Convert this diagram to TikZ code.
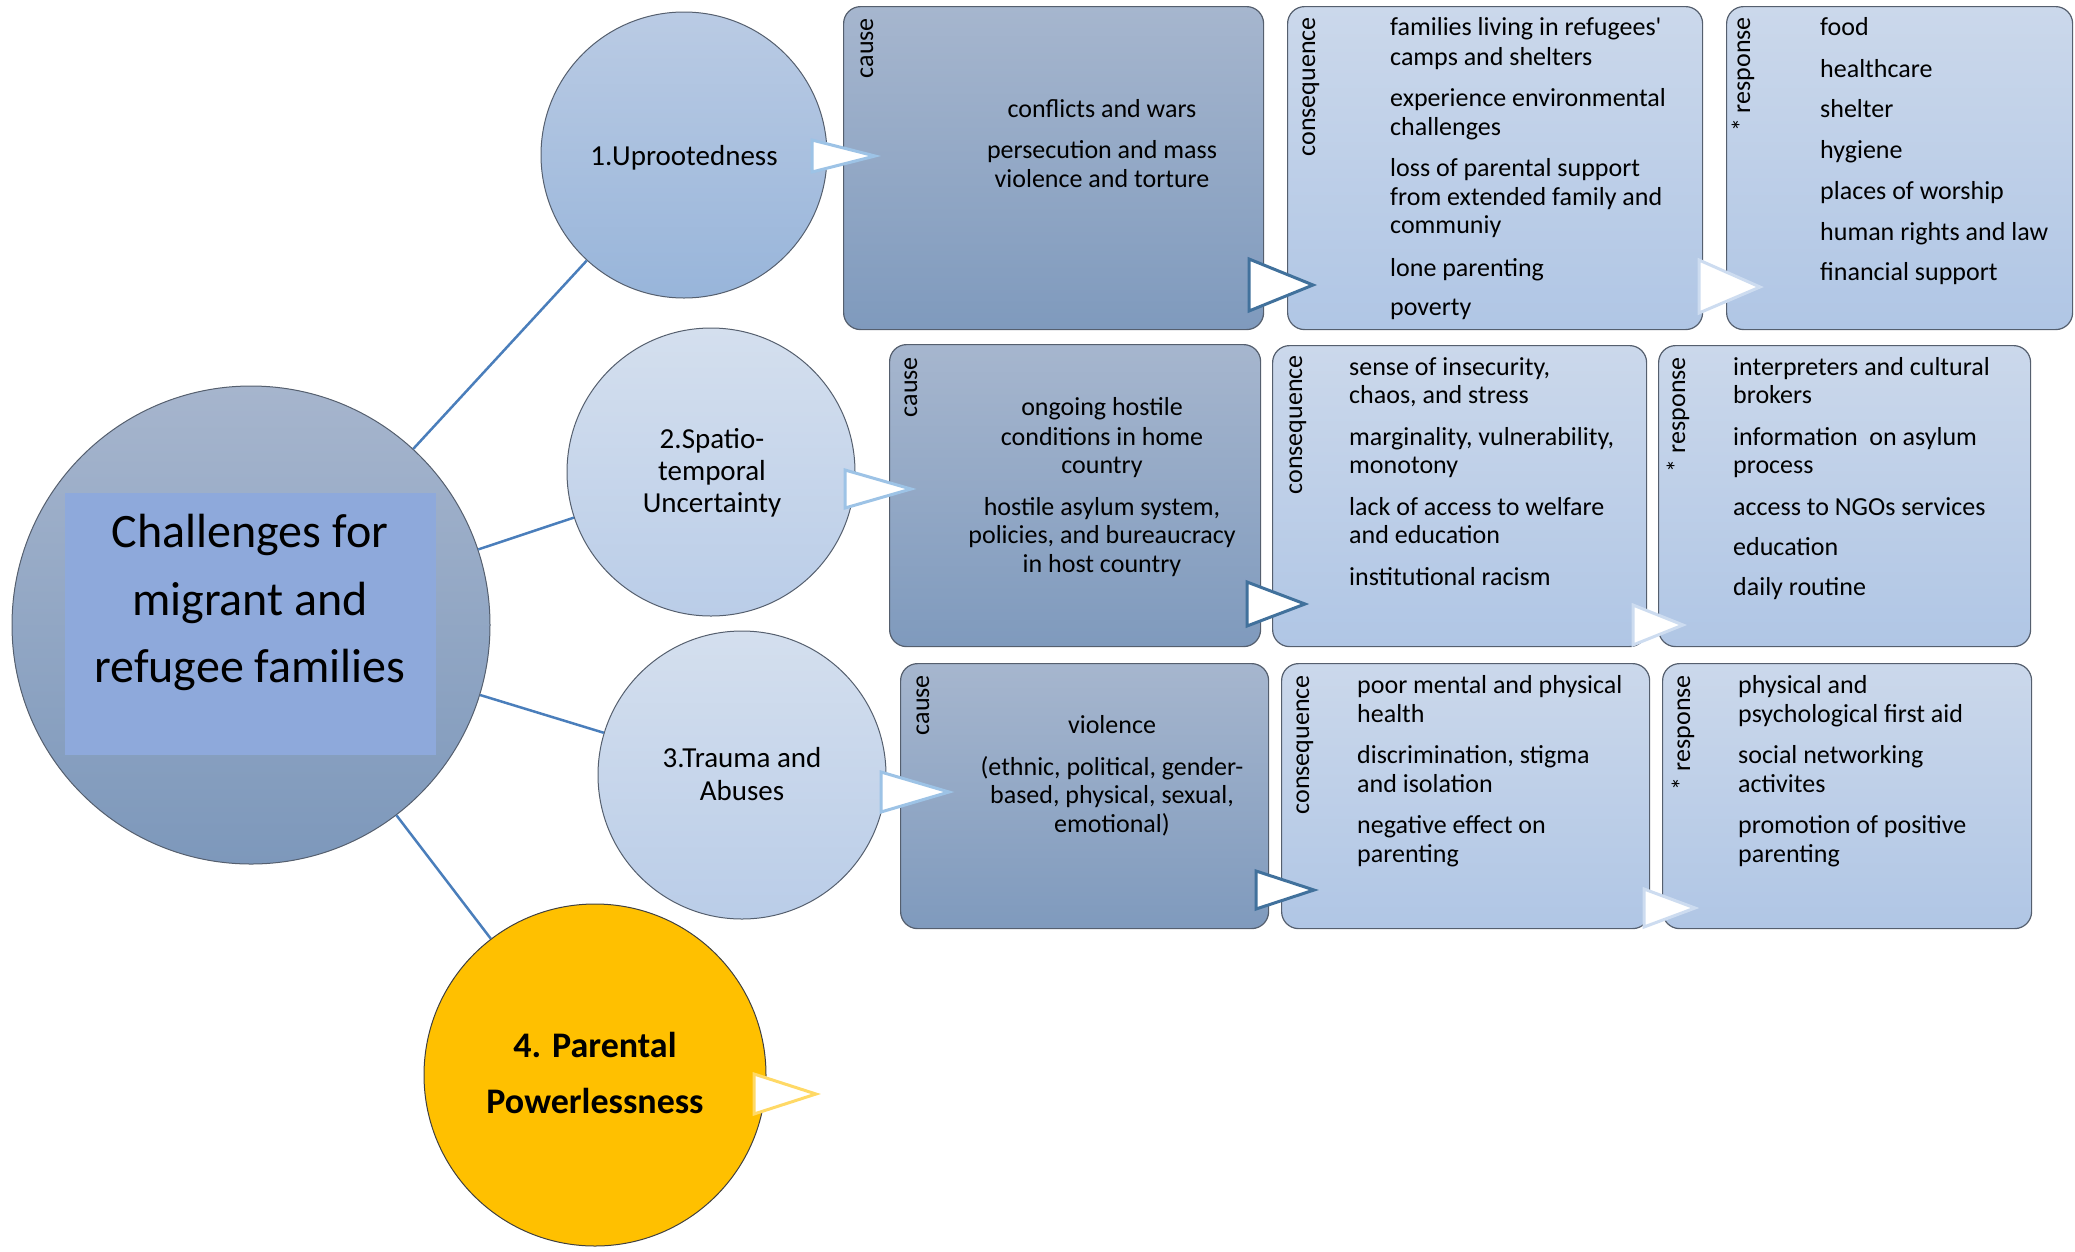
\documentclass[tikz,border=0pt]{standalone}
\usepackage{fontspec}
\setmainfont{Carlito}[Ligatures=TeXOff]
\definecolor{linec}{RGB}{74,126,187}
\definecolor{causetop}{RGB}{166,182,206}
\definecolor{causebot}{RGB}{127,154,189}
\definecolor{boxtop}{RGB}{203,216,235}
\definecolor{boxbot}{RGB}{176,198,229}
\definecolor{maintop}{RGB}{166,181,205}
\definecolor{mainbot}{RGB}{125,152,187}
\definecolor{innerc}{RGB}{142,169,219}
\definecolor{nAtop}{RGB}{186,203,228}
\definecolor{nAbot}{RGB}{152,181,218}
\definecolor{ntop}{RGB}{212,223,238}
\definecolor{nbot}{RGB}{186,205,232}
\definecolor{goldc}{RGB}{255,192,0}
\definecolor{goldline}{RGB}{255,217,102}
\definecolor{bordc}{RGB}{85,95,110}
\definecolor{triA}{RGB}{157,195,230}
\definecolor{triB}{RGB}{65,113,156}
\definecolor{triC}{RGB}{205,220,240}
\begin{document}
\begin{tikzpicture}[x=1pt,y=-1pt,
  conn/.style={draw=linec, line width=2.5pt},
  bubble/.style={circle, draw=bordc, line width=1pt, inner sep=0pt},
  causebox/.style={rectangle, rounded corners=17pt, draw=bordc, line width=1.2pt, top color=causetop, bottom color=causebot, anchor=north west, inner sep=0pt},
  cbox/.style={causebox, top color=boxtop, bottom color=boxbot},
  tri/.style={fill=white, line width=3pt, line join=miter},
  tl/.style={inner sep=0pt, font=\fontsize{26}{29}\selectfont, anchor=base west},
  tc/.style={inner sep=0pt, font=\fontsize{26}{29}\selectfont, anchor=base},
  side/.style={inner sep=0pt, font=\fontsize{26}{29}\selectfont, rotate=90, anchor=base east},
  bl/.style={inner sep=0pt, font=\fontsize{29}{32}\selectfont, anchor=base},
]
\useasboundingbox (0,0) rectangle (2075,1251);

% circles
\node[bubble, minimum size=478pt, top color=maintop, bottom color=mainbot] (main) at (251,625) {};
\node[fill=innerc, minimum width=371pt, minimum height=262pt, inner sep=0pt] (inner) at (250.5,624) {};
\node[bubble, minimum size=286pt, top color=nAtop, bottom color=nAbot] (n1) at (684,155) {};
\node[bubble, minimum size=288pt, top color=ntop, bottom color=nbot] (n2) at (711,472) {};
\node[bubble, minimum size=288pt, top color=ntop, bottom color=nbot] (n3) at (742,775) {};
\node[bubble, minimum size=342pt, fill=goldc, draw=black!75] (n4) at (595,1075) {};

% connectors
\draw[conn] (main) -- (n1);
\draw[conn] (main) -- (n2);
\draw[conn] (main) -- (n3);
\draw[conn] (main) -- (n4);

% boxes
\node[causebox, minimum width=420pt, minimum height=323pt] (cause1) at (843,6) {};
\node[cbox, minimum width=415pt, minimum height=323pt] (cons1) at (1287,6) {};
\node[cbox, minimum width=346pt, minimum height=323pt] (resp1) at (1726,6) {};
\node[causebox, minimum width=371pt, minimum height=302pt] (cause2) at (889,344) {};
\node[cbox, minimum width=374pt, minimum height=301pt] (cons2) at (1272,345) {};
\node[cbox, minimum width=372pt, minimum height=301pt] (resp2) at (1658,345) {};
\node[causebox, minimum width=368pt, minimum height=265pt] (cause3) at (900,663) {};
\node[cbox, minimum width=368pt, minimum height=265pt] (cons3) at (1281,663) {};
\node[cbox, minimum width=369pt, minimum height=265pt] (resp3) at (1662,663) {};

% triangles
\draw[tri, draw=triA] (812,140) -- (875,156) -- (812,172) -- cycle;
\draw[tri, draw=triB] (1249,259) -- (1313,285) -- (1249,311) -- cycle;
\draw[tri, draw=triC] (1699,260) -- (1760,287) -- (1699,313) -- cycle;
\draw[tri, draw=triA] (845,470) -- (911,489) -- (845,508) -- cycle;
\draw[tri, draw=triB] (1247,582) -- (1305,604) -- (1247,626) -- cycle;
\draw[tri, draw=triC] (1633,605) -- (1683,625) -- (1633,645) -- cycle;
\draw[tri, draw=triA] (881,772) -- (949,792) -- (881,812) -- cycle;
\draw[tri, draw=triB] (1256,871) -- (1314,890) -- (1256,909) -- cycle;
\draw[tri, draw=triC] (1644,889) -- (1695,908) -- (1644,927) -- cycle;
\draw[tri, draw=goldline] (754,1074) -- (816,1094) -- (754,1114) -- cycle;

% main label
\node[inner sep=0pt, font=\fontsize{48}{67}\selectfont, anchor=base] (mt1) at (250,547) {Challenges for};
\node[inner sep=0pt, font=\fontsize{48}{67}\selectfont, anchor=base] (mt2) at (250,615) {migrant and};
\node[inner sep=0pt, font=\fontsize{48}{67}\selectfont, anchor=base] (mt3) at (250,682) {refugee families};

% bubble labels
\node[bl] (n1t) at (684,165) {1.Uprootedness};
\node[bl] (n2t1) at (712,448) {2.Spatio-};
\node[bl] (n2t2) at (712,480) {temporal};
\node[bl] (n2t3) at (712,512) {Uncertainty};
\node[bl] (n3t1) at (742,767) {3.Trauma and};
\node[bl] (n3t2) at (742,800) {Abuses};
\node[inner sep=0pt, font=\fontsize{36}{40}\selectfont\bfseries, anchor=base] (n4t1) at (595,1057) {4. Parental};
\node[inner sep=0pt, font=\fontsize{36}{40}\selectfont\bfseries, anchor=base] (n4t2) at (595,1113) {Powerlessness};

% side labels
\node[side] (cause1l) at (873,18) {cause};
\node[side] (cons1l) at (1315,17) {consequence};
\node[side] (resp1l) at (1750,17) {* response};
\node[side] (cause2l) at (917,357) {cause};
\node[side] (cons2l) at (1302,355) {consequence};
\node[side] (resp2l) at (1685,357) {* response};
\node[side] (cause3l) at (929,675) {cause};
\node[side] (cons3l) at (1309,675) {consequence};
\node[side] (resp3l) at (1690,675) {* response};

% row 1 texts
\foreach \y/\s [count=\i] in {117/{conflicts and wars},158/{persecution and mass},187/{violence and torture}}
  \node[tc] (cause1t\i) at (1102,\y) {\s};
\foreach \y/\s [count=\i] in {35/{families living in refugees'},65/{camps and shelters},106/{experience environmental},135/{challenges},176/{loss of parental support},205/{from extended family and},233/{communiy},276/{lone parenting},315/{poverty}}
  \node[tl] (cons1t\i) at (1390,\y) {\s};
\foreach \y/\s [count=\i] in {35/{food},77/{healthcare},117/{shelter},158/{hygiene},199/{places of worship},240/{human rights and law},280/{financial support}}
  \node[tl] (resp1t\i) at (1820,\y) {\s};

% row 2 texts
\foreach \y/\s [count=\i] in {415/{ongoing hostile},445/{conditions in home},473/{country},515/{hostile asylum system,},543/{policies, and bureaucracy},572/{in host country}}
  \node[tc] (cause2t\i) at (1102,\y) {\s};
\foreach \y/\s [count=\i] in {375/{sense of insecurity,},403/{chaos, and stress},445/{marginality, vulnerability,},473/{monotony},515/{lack of access to welfare},543/{and education},585/{institutional racism}}
  \node[tl] (cons2t\i) at (1349,\y) {\s};
\foreach \y/\s [count=\i] in {375/{interpreters and cultural},403/{brokers},445/{information\ \ on asylum},473/{process},515/{access to NGOs services},555/{education},595/{daily routine}}
  \node[tl] (resp2t\i) at (1733,\y) {\s};

% row 3 texts
\foreach \y/\s [count=\i] in {733/{violence},775/{(ethnic, political, gender-},803/{based, physical, sexual,},832/{emotional)}}
  \node[tc] (cause3t\i) at (1112,\y) {\s};
\foreach \y/\s [count=\i] in {693/{poor mental and physical},722/{health},763/{discrimination, stigma},792/{and isolation},833/{negative effect on},862/{parenting}}
  \node[tl] (cons3t\i) at (1357,\y) {\s};
\foreach \y/\s [count=\i] in {693/{physical and},722/{psychological first aid},763/{social networking},792/{activites},833/{promotion of positive},862/{parenting}}
  \node[tl] (resp3t\i) at (1738,\y) {\s};
\end{tikzpicture}
\end{document}
